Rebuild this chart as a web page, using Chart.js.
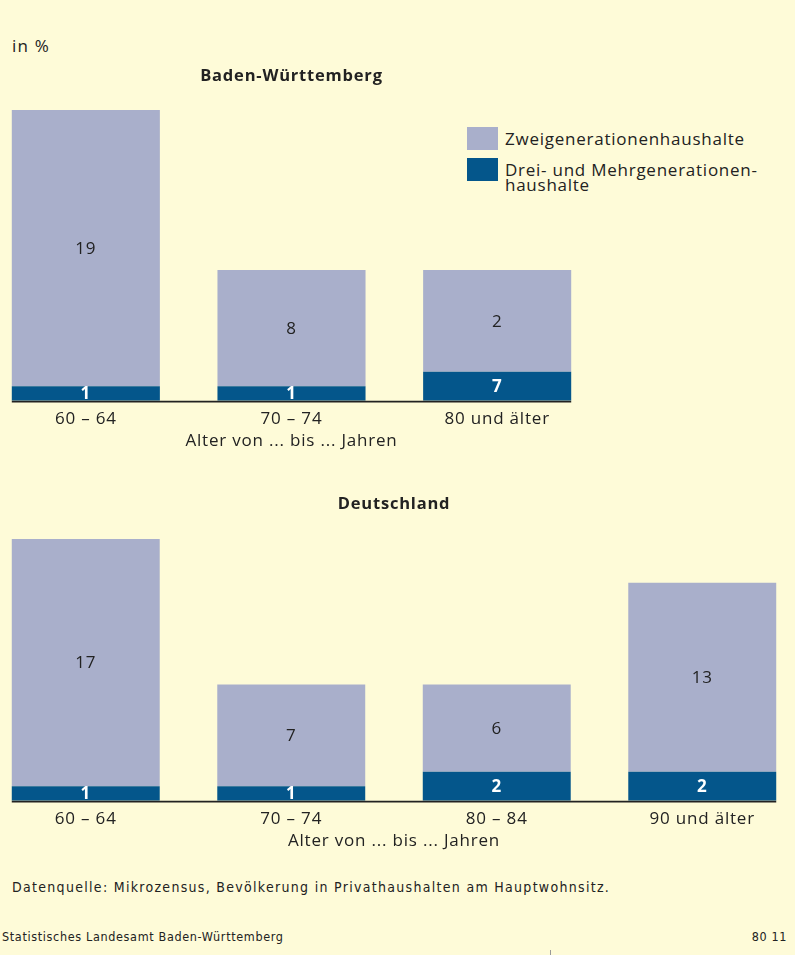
<!DOCTYPE html>
<html>
<head>
<meta charset="utf-8">
<script src="https://cdn.jsdelivr.net/npm/chart.js@4/dist/chart.umd.min.js"></script>
<style>
  html, body { margin: 0; padding: 0; }
  body { width: 795px; height: 955px; background: #FEFBD8; position: relative; overflow: hidden;
         font-family: "Open Sans", "Liberation Sans", Arial, sans-serif; color: #222; }
  .abs { position: absolute; }
  #unit { left: 12px; top: 35px; font-size: 17px; line-height: 22px; letter-spacing: 1.2px; }
  #legend { left: 467px; top: 127px; font-size: 17px; letter-spacing: 0.75px; }
  .li { position: relative; height: 31px; }
  .sw { position: absolute; left: 0; top: 0; width: 31px; height: 23px; }
  .lt { position: absolute; left: 38px; top: 4px; line-height: 15px; white-space: nowrap; }
  .foot { font-family: "Liberation Sans Narrow", "DejaVu Sans Condensed", sans-serif; }
  #src { left: 12px; top: 879px; font-size: 14px; letter-spacing: 1.3px; }
  #org { left: 2px; top: 929px; font-size: 12.5px; letter-spacing: 0.65px; }
  #num { right: 8px; top: 929px; font-size: 12.5px; letter-spacing: 0.6px; }
  #mark { left: 550px; top: 950px; width: 1px; height: 5px; background: #999; }
  canvas { position: absolute; }
</style>
</head>
<body>
<div id="unit" class="abs">in %</div>
<div id="legend" class="abs"></div>
<canvas id="c1" width="617" height="391" style="left:-17px; top:60px;"></canvas>
<canvas id="c2" width="822" height="363" style="left:-17px; top:488px;"></canvas>
<div id="src" class="abs foot">Datenquelle: Mikrozensus, Bevölkerung in Privathaushalten am Hauptwohnsitz.</div>
<div id="org" class="abs foot">Statistisches Landesamt Baden-Württemberg</div>
<div id="num" class="abs foot">80 11</div>
<div id="mark" class="abs"></div>
<script>
// ---- Data ----
const seriesNames = ["Zweigenerationenhaushalte", "Drei- und Mehrgenerationen-\nhaushalte"];

const bwTitle = "Baden-Württemberg";
const bwCategories = ["60 – 64", "70 – 74", "80 und älter"];
const bwTwoGen = [19, 8, 7];          // bar heights as drawn
const bwMultiGen = [1, 1, 2];         // bar heights as drawn
const bwTwoGenLabels = ["19", "8", "2"];   // numbers printed in the picture
const bwMultiGenLabels = ["1", "1", "7"];

const deTitle = "Deutschland";
const deCategories = ["60 – 64", "70 – 74", "80 – 84", "90 und älter"];
const deTwoGen = [17, 7, 6, 13];
const deMultiGen = [1, 1, 2, 2];
const deTwoGenLabels = ["17", "7", "6", "13"];
const deMultiGenLabels = ["1", "1", "2", "2"];

const axisTitle = "Alter von ... bis ... Jahren";

// ---- Styles ----
const LIGHT = "#A9AFCB";
const DARK = "#04568B";
const FONT = "'Open Sans', 'Liberation Sans', Arial, sans-serif";
const SPACING = "0.8px";

// HTML legend built from series names
const legendEl = document.getElementById("legend");
[[LIGHT, seriesNames[0]], [DARK, seriesNames[1]]].forEach(([col, name]) => {
  const li = document.createElement("div"); li.className = "li";
  const sw = document.createElement("div"); sw.className = "sw"; sw.style.background = col;
  const lt = document.createElement("div"); lt.className = "lt";
  name.split("\n").forEach((t, i) => { if (i) lt.appendChild(document.createElement("br")); lt.appendChild(document.createTextNode(t)); });
  li.appendChild(sw); li.appendChild(lt); legendEl.appendChild(li);
});

const spacingPlugin = {
  id: "spacing",
  beforeUpdate(chart) { chart.ctx.letterSpacing = SPACING; },
  beforeDraw(chart) { chart.ctx.letterSpacing = SPACING; }
};

const barLabelPlugin = {
  id: "barLabels",
  afterDatasetsDraw(chart) {
    const ctx = chart.ctx;
    ctx.save();
    ctx.letterSpacing = SPACING;
    chart.data.datasets.forEach((ds, di) => {
      const meta = chart.getDatasetMeta(di);
      meta.data.forEach((bar, i) => {
        const y = (bar.y + bar.base) / 2;
        ctx.font = ds.labelFont;
        ctx.fillStyle = ds.labelColor;
        ctx.textAlign = "center";
        ctx.textBaseline = "middle";
        ctx.fillText(ds.valueLabels[i], bar.x, y + 1);
      });
    });
    // baseline from first bar's left edge to last bar's right edge
    const m = chart.getDatasetMeta(0).data;
    const first = m[0], last = m[m.length - 1];
    const yb = chart.chartArea.bottom;
    ctx.strokeStyle = "#222";
    ctx.lineWidth = 1.6;
    ctx.beginPath();
    ctx.moveTo(first.x - first.width / 2, yb + 0.8);
    ctx.lineTo(last.x + last.width / 2, yb + 0.8);
    ctx.stroke();
    ctx.restore();
  }
};

function makeChart(id, title, cats, two, multi, twoL, multiL, yMax, titlePad) {
  return new Chart(document.getElementById(id), {
    type: "bar",
    data: {
      labels: cats,
      datasets: [
        { label: seriesNames[1], data: multi, backgroundColor: DARK, valueLabels: multiL,
          labelColor: "#ffffff", labelFont: "bold 17px " + FONT },
        { label: seriesNames[0], data: two, backgroundColor: LIGHT, valueLabels: twoL,
          labelColor: "#222222", labelFont: "17px " + FONT }
      ]
    },
    options: {
      responsive: false,
      animation: false,
      layout: { padding: 0 },
      datasets: { bar: { barPercentage: 0.72, categoryPercentage: 1 } },
      plugins: {
        legend: { display: false },
        tooltip: { enabled: false },
        title: { display: true, text: title, color: "#222", font: { family: FONT, size: 16.5, weight: "bold" },
                 padding: titlePad }
      },
      scales: {
        x: {
          stacked: true,
          grid: { display: false, drawTicks: false },
          border: { display: false },
          ticks: { color: "#222", font: { family: FONT, size: 17 }, padding: 7.8 },
          title: { display: true, text: axisTitle, color: "#222", font: { family: FONT, size: 17 }, padding: { top: -6.2, bottom: 0 } }
        },
        y: { stacked: true, display: false, min: 0, max: yMax }
      }
    },
    plugins: [spacingPlugin, barLabelPlugin]
  });
}

makeChart("c1", bwTitle, bwCategories, bwTwoGen, bwMultiGen, bwTwoGenLabels, bwMultiGenLabels, 20, { top: 6.1, bottom: 24.1 });
makeChart("c2", deTitle, deCategories, deTwoGen, deMultiGen, deTwoGenLabels, deMultiGenLabels, 18, { top: 6.1, bottom: 25.1 });
</script>
</body>
</html>
